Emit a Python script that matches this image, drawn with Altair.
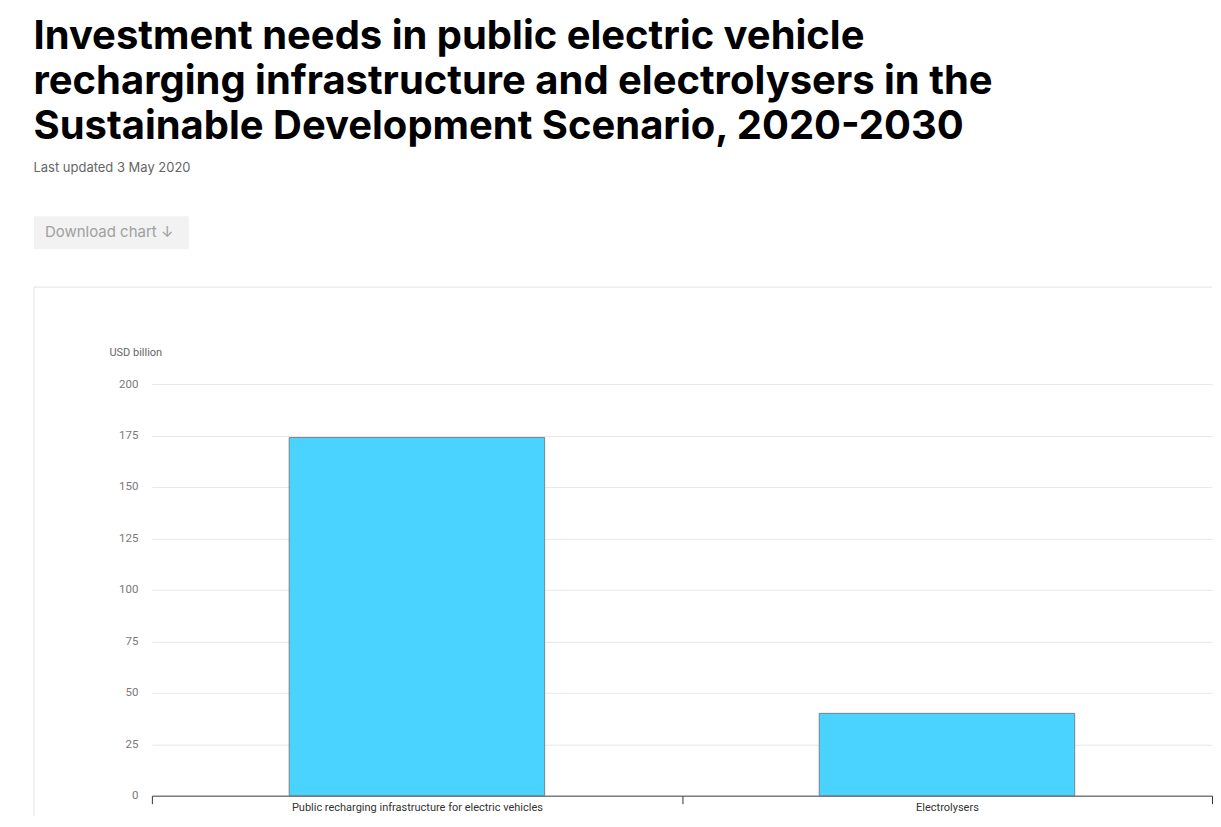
import pandas as pd
import altair as alt

# Investment needs 2020-2030, USD billion
categories = ['Public recharging infrastructure for electric vehicles', 'Electrolysers']
investment = [174, 40]
y_ticks = [0, 25, 50, 75, 100, 125, 150, 175, 200]

df = pd.DataFrame({'category': categories, 'usd_bn': investment})

bars = alt.Chart(df).mark_bar(
    width=alt.RelativeBandSize(0.482),
    color='#4ad3ff',
    stroke='#6e6e6e',
    strokeWidth=0.8
).encode(
    x=alt.X('category:N', sort=categories, title=None,
            scale=alt.Scale(paddingInner=0, paddingOuter=0),
            axis=alt.Axis(labelAngle=0, tickBand='extent', tickSize=8, tickColor='#333',
                          domainColor='#444', labelColor='#333', labelFontSize=11,
                          labelFont='Roboto', labelPadding=-2, labelLimit=600)),
    y=alt.Y('usd_bn:Q', title='USD billion',
            scale=alt.Scale(domain=[0, 200]),
            axis=alt.Axis(values=y_ticks, domain=False, ticks=False, gridColor='#e8e8e8',
                          labelColor='#7a7a7a', labelFontSize=11.5, labelFont='Roboto',
                          labelPadding=14, titleAngle=0, titleAlign='left',
                          titleBaseline='bottom', titleX=-43, titleY=-27,
                          titleColor='#666', titleFontSize=11, titleFont='Roboto',
                          titleFontWeight='normal'))
)

# page furniture: download button and the card outline
blank = alt.Data(values=[{}])
button = alt.Chart(blank).mark_rect(color='#f2f2f2').encode(
    x=alt.value(-118), x2=alt.value(37), y=alt.value(-168), y2=alt.value(-135))
button_text = alt.Chart(blank).mark_text(
    text='Download chart  ↓', align='left', baseline='middle',
    font='Inter', fontSize=15, color='#a0a0a0'
).encode(x=alt.value(-107), y=alt.value(-152))
card_top = alt.Chart(blank).mark_rule(color='#e2e2e2').encode(
    x=alt.value(-118), x2=alt.value(1061), y=alt.value(-97))
card_left = alt.Chart(blank).mark_rule(color='#e2e2e2').encode(
    x=alt.value(-118), y=alt.value(-97), y2=alt.value(432))

chart = alt.layer(card_top, card_left, button, button_text, bars).properties(
    width=1061,
    height=412,
    padding={'left': 25, 'top': 9, 'right': 0, 'bottom': 0},
    title=alt.TitleParams(
        text=['Investment needs in public electric vehicle',
              'recharging infrastructure and electrolysers in the',
              'Sustainable Development Scenario, 2020-2030'],
        subtitle='Last updated 3 May 2020',
        anchor='start', font='Inter', fontSize=40, fontWeight=700, color='#000',
        lineHeight=45, subtitleFont='Inter', subtitleFontSize=13, subtitleColor='#666',
        subtitlePadding=15, offset=41
    )
).configure_view(stroke=None)

chart.save('out.html', embed_options={'renderer': 'svg', 'actions': False})
